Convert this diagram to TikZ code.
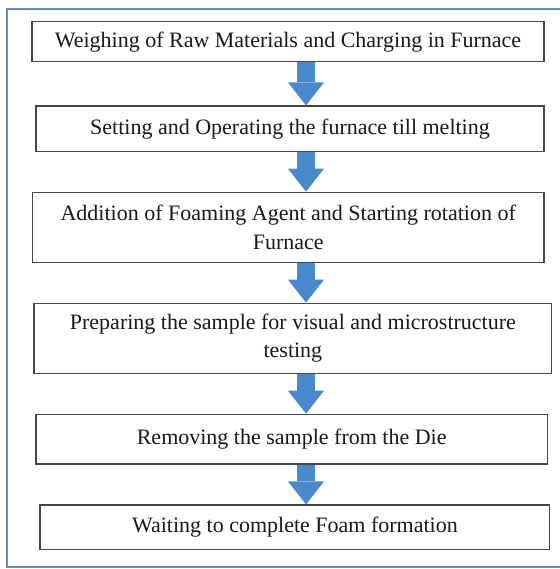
\documentclass[tikz,border=0pt]{standalone}
\usepackage{fontspec}
\setmainfont{Liberation Serif}
\usepackage{xcolor}
\usepackage{tikz}
\usetikzlibrary{arrows.meta,calc}
\definecolor{framecol}{RGB}{98,137,186}
\definecolor{arrowcol}{RGB}{74,136,204}
\definecolor{boxcol}{RGB}{70,70,70}
\tikzstyle{stage}=[draw=boxcol,line width=1.3pt,fill=white,align=center,inner sep=0pt,text=black!90,font=\fontsize{22}{28.5}\selectfont]

\begin{document}
\begin{tikzpicture}[x=1pt,y=-1pt,flow/.style={-{Triangle[length=23pt,width=36pt,line width=0pt]},line width=18pt,draw=arrowcol,fill=arrowcol}]
\useasboundingbox (0,0) rectangle (559,569);
\draw[framecol,line width=2pt] (7.3,9.3) rectangle (566,567.3);
\node (s1) at (288,41.7)[stage,minimum width=512pt,minimum height=40pt] {Weighing of Raw Materials and Charging in Furnace};
\node (s2) at (290,128.9)[stage,minimum width=508pt,minimum height=45.7pt] {Setting and Operating the furnace till melting};
\node (s3) at (288.2,227.5)[stage,minimum width=511.7pt,minimum height=70.4pt] {Addition of Foaming Agent and Starting rotation of\\Furnace};
\node (s4) at (292.9,338.3)[stage,minimum width=517.7pt,minimum height=70pt] {Preparing the sample for visual and microstructure\\testing};
\node (s5) at (291.7,439.2)[stage,minimum width=511.3pt,minimum height=49.7pt] {Removing the sample from the Die};
\node (s6) at (294.9,527.2)[stage,minimum width=509.7pt,minimum height=44.3pt] {Waiting to complete Foam formation};
\coordinate (ax) at (306,0);
\draw[flow] (s1.south -| ax) -- (s2.north -| ax);
\draw[flow] (s2.south -| ax) -- (s3.north -| ax);
\draw[flow] (s3.south -| ax) -- (s4.north -| ax);
\draw[flow] (s4.south -| ax) -- (s5.north -| ax);
\draw[flow] (s5.south -| ax) -- (s6.north -| ax);
\end{tikzpicture}
\end{document}
